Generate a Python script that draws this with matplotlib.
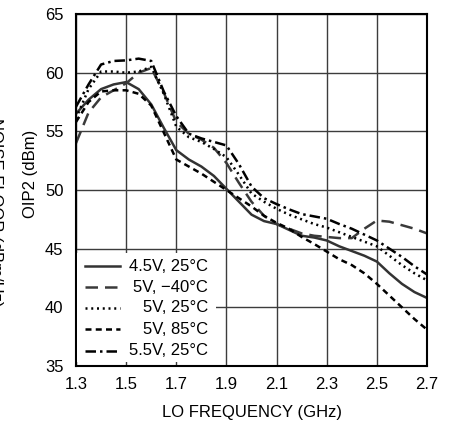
import numpy as np
import matplotlib
matplotlib.use("Agg")
import matplotlib.pyplot as plt
from matplotlib.patches import Rectangle

plt.rcParams['font.family'] = ['Liberation Sans Narrow', 'Liberation Sans', 'DejaVu Sans']

# LO frequency (GHz)
freq = [1.30, 1.35, 1.40, 1.45, 1.50, 1.55, 1.60, 1.65, 1.70, 1.75,
        1.80, 1.85, 1.90, 1.95, 2.00, 2.05, 2.10, 2.15, 2.20, 2.25,
        2.30, 2.35, 2.40, 2.45, 2.50, 2.55, 2.60, 2.65, 2.70]

# OIP2 (dBm) per supply / temperature
oip2_45v_25c = [56.5, 57.7, 58.6, 59.0, 59.2, 58.6, 57.3, 55.3, 53.4, 52.6,
                52.0, 51.2, 50.1, 49.0, 47.9, 47.35, 47.1, 46.6, 46.1, 45.95,
                45.7, 45.2, 44.8, 44.4, 43.9, 42.9, 42.0, 41.3, 40.8]
oip2_5v_m40c = [54.0, 56.6, 57.9, 58.5, 59.1, 60.0, 60.4, 58.3, 55.8, 54.8,
                54.3, 53.6, 52.3, 50.6, 49.0, 47.8, 47.1, 46.7, 46.3, 46.1,
                46.0, 45.9, 45.9, 46.7, 47.4, 47.3, 47.0, 46.7, 46.3]
oip2_5v_25c = [56.1, 58.6, 60.1, 60.1, 60.0, 60.1, 60.5, 58.2, 55.4, 54.5,
               54.1, 53.5, 52.8, 51.3, 49.7, 49.0, 48.4, 47.9, 47.5, 47.1,
               46.8, 46.4, 46.0, 45.6, 45.2, 44.4, 43.6, 42.9, 42.3]
oip2_5v_85c = [55.8, 57.5, 58.4, 58.5, 58.5, 58.2, 57.2, 54.9, 52.6, 52.0,
               51.4, 50.7, 50.0, 49.3, 48.6, 47.8, 47.2, 46.7, 46.0, 45.4,
               44.75, 44.1, 43.6, 42.9, 42.0, 41.0, 40.0, 39.0, 38.1]
oip2_55v_25c = [57.1, 59.0, 60.7, 61.0, 61.05, 61.2, 61.0, 58.4, 56.3, 54.8,
                54.4, 54.1, 53.8, 52.2, 50.3, 49.3, 48.8, 48.35, 47.95, 47.75,
                47.55, 47.1, 46.7, 46.2, 45.7, 45.0, 44.3, 43.5, 42.8]

labels = ['4.5V, 25°C', '5V, \u221240°C', '5V, 25°C', '5V, 85°C', '5.5V, 25°C']
xticks = [1.3, 1.5, 1.7, 1.9, 2.1, 2.3, 2.5, 2.7]
yticks = [35, 40, 45, 50, 55, 60, 65]

series = [oip2_45v_25c, oip2_5v_m40c, oip2_5v_25c, oip2_5v_85c, oip2_55v_25c]
styles = [
    dict(color='#333333', linestyle='-'),
    dict(color='#3a3a3a', linestyle=(0, (5.0, 2.8))),
    dict(color='black', linestyle=(0, (0.8, 1.5))),
    dict(color='black', linestyle=(0, (2.4, 1.7))),
    dict(color='black', linestyle=(0, (4.2, 1.6, 1.0, 1.6))),
]

FS = 12

fig = plt.figure(figsize=(4.53, 4.23), dpi=100)
ax = fig.add_axes([0.1678, 0.1348, 0.7748, 0.832])

for y, st in zip(series, styles):
    ax.plot(freq, y, lw=1.8, zorder=2, **st)

ax.set_xlim(1.3, 2.7)
ax.set_ylim(35, 65)
ax.set_xticks(xticks)
ax.set_xticklabels([f'{v:.1f}' for v in xticks])
ax.set_yticks(yticks)
ax.grid(True, color='#3c3c3c', lw=1.0, zorder=0)
ax.set_axisbelow(True)
ax.tick_params(length=0, labelsize=FS)
ax.tick_params(axis='x', pad=8)
ax.tick_params(axis='y', pad=9)
for s in ax.spines.values():
    s.set_linewidth(1.5)
    s.set_color('black')

ax.set_xlabel('LO FREQUENCY (GHz)', fontsize=FS, labelpad=9)
fig.text(31 / 453, 1 - 174 / 423, 'OIP2 (dBm)', rotation=90,
         ha='center', va='center', fontsize=FS)
# second y-axis title, only its right edge shows inside the figure
fig.text(-5 / 453, 1 - 212 / 423, 'NOISE FLOOR (dBm/Hz)', rotation=-90,
         ha='center', va='center', fontsize=FS)

# legend block, drawn by hand so the labels sit right-aligned
ax.add_patch(Rectangle((0.004, 0.01), 0.395, 0.312, transform=ax.transAxes,
                       facecolor='white', edgecolor='none', zorder=3))
rows = [0.284, 0.224, 0.165, 0.105, 0.043]
for lab, st, ry in zip(labels, styles, rows):
    ax.plot([0.026, 0.125], [ry, ry], transform=ax.transAxes, lw=1.8,
            zorder=4, clip_on=False, **st)
    ax.text(0.376, ry, lab, transform=ax.transAxes, ha='right', va='center',
            fontsize=FS, zorder=4)

fig.savefig('out.png', dpi=100)
